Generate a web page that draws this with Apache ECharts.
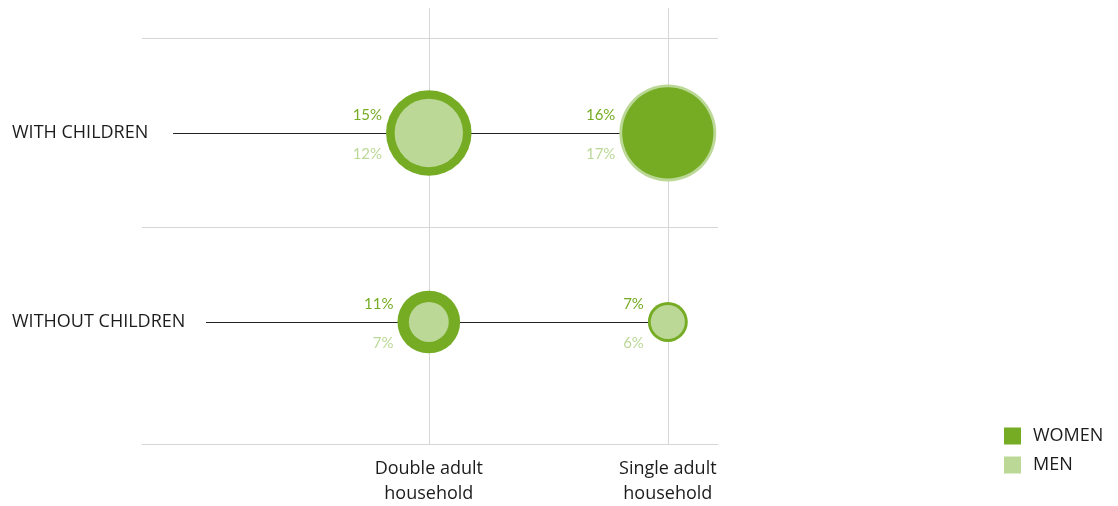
<!DOCTYPE html>
<html>
<head>
<meta charset="utf-8">
<title>Household type by gender</title>
<script src="https://cdn.jsdelivr.net/npm/echarts@6/dist/echarts.min.js"></script>
<style>
  html, body { margin: 0; padding: 0; background: #ffffff; }
  #chart { width: 1118px; height: 506px; }
</style>
</head>
<body>
<div id="chart"></div>
<script>
// Columns (household type) and rows (presence of children)
var householdTypes = ['Double adult\nhousehold', 'Single adult\nhousehold'];
var childRows = ['WITH CHILDREN', 'WITHOUT CHILDREN'];

// Shares in percent, one row per childRows entry, one column per household type
var womenShare = [[15, 16], [11, 7]];
var menShare = [[12, 17], [7, 6]];

var legendNames = ['WOMEN', 'MEN'];

var WOMEN_COLOR = '#75ac24';
var MEN_COLOR = '#bbd897';
var GRID_COLOR = '#d6d6d6';
var TEXT_COLOR = '#1c1c1c';
var FONT = '"Open Sans", "Noto Sans", sans-serif';
var PCT_FONT = 'Lato, "Noto Sans", sans-serif';

// bubble diameter per percentage point
var SIZE_K = 5.7;
var LABEL_GAP = 4;

function rowY(r) { return childRows.length - r; }
function colX(c) { return c + 1; }

var womenPts = [], menBack = [], menFront = [];
childRows.forEach(function (row, r) {
  householdTypes.forEach(function (h, c) {
    var w = womenShare[r][c], m = menShare[r][c];
    var big = Math.max(w, m);
    var wItem = {
      value: [colX(c), rowY(r), w],
      symbolSize: w * SIZE_K,
      label: { distance: (big - w) * SIZE_K / 2 + LABEL_GAP }
    };
    var mItem = {
      value: [colX(c), rowY(r), m],
      symbolSize: m * SIZE_K,
      label: { distance: (big - m) * SIZE_K / 2 + LABEL_GAP }
    };
    womenPts.push(wItem);
    // the larger circle sits underneath the smaller one
    if (m > w) menBack.push(mItem); else menFront.push(mItem);
  });
});

function pctLabel(color, dy) {
  return {
    show: true,
    position: 'left',
    offset: [0, dy],
    color: color,
    fontFamily: PCT_FONT,
    fontSize: 15,
    formatter: function (p) { return p.value[2] + '%'; }
  };
}

// connector lines from the row captions to the last column
var connectorStart = [-0.07, 0.068];
var connectorData = childRows.map(function (row, r) {
  return [
    { coord: [connectorStart[r], rowY(r)], lineStyle: { color: '#222222', width: 1, type: 'solid' } },
    { coord: [colX(householdTypes.length - 1), rowY(r)] }
  ];
});

function gridLine(key, v) {
  var d = { lineStyle: { color: GRID_COLOR, width: 1, type: 'solid' } };
  d[key] = v;
  return d;
}

var option = {
  backgroundColor: '#ffffff',
  animation: false,
  textStyle: { fontFamily: FONT },
  grid: { left: 142, right: 400, top: 8, bottom: 62 },
  legend: {
    data: legendNames,
    orient: 'vertical',
    left: 1004,
    top: 427,
    padding: 0,
    icon: 'rect',
    itemWidth: 17,
    itemHeight: 17,
    itemGap: 11,
    textStyle: { fontFamily: FONT, fontSize: 18, color: TEXT_COLOR, padding: [0, 0, 0, 7] }
  },
  xAxis: {
    type: 'value',
    min: -0.2,
    max: 2.21,
    splitLine: { show: false },
    axisTick: { show: false },
    axisLine: { show: true, lineStyle: { color: GRID_COLOR, width: 1 } },
    axisLabel: {
      customValues: householdTypes.map(function (h, c) { return colX(c); }),
      formatter: function (v) { return householdTypes[v - 1] || ''; },
      color: TEXT_COLOR,
      fontFamily: FONT,
      fontSize: 18,
      lineHeight: 25,
      margin: 12
    }
  },
  yAxis: {
    type: 'value',
    min: 0.3545,
    max: 2.661,
    splitLine: { show: false },
    axisTick: { show: false },
    axisLine: { show: false },
    axisLabel: {
      customValues: childRows.map(function (row, r) { return rowY(r); }),
      formatter: function (v) { return childRows[childRows.length - v] || ''; },
      align: 'left',
      margin: 130,
      color: TEXT_COLOR,
      fontFamily: FONT,
      fontSize: 18
    }
  },
  series: [
    {
      type: 'line',
      z: 1,
      data: [],
      silent: true,
      markLine: {
        z: 1,
        silent: true,
        symbol: 'none',
        label: { show: false },
        animation: false,
        data: [
          gridLine('xAxis', 1),
          gridLine('xAxis', 2),
          gridLine('yAxis', 1.5),
          gridLine('yAxis', 2.5)
        ].concat(connectorData)
      }
    },
    {
      name: 'MEN',
      type: 'scatter',
      z: 2,
      itemStyle: { color: MEN_COLOR, opacity: 1 },
      label: pctLabel(MEN_COLOR, 21),
      data: menBack
    },
    {
      name: 'WOMEN',
      type: 'scatter',
      z: 3,
      itemStyle: { color: WOMEN_COLOR, opacity: 1 },
      label: pctLabel(WOMEN_COLOR, -18),
      data: womenPts
    },
    {
      name: 'MEN',
      type: 'scatter',
      z: 4,
      itemStyle: { color: MEN_COLOR, opacity: 1 },
      label: pctLabel(MEN_COLOR, 21),
      data: menFront
    }
  ]
};

var chart = echarts.init(document.getElementById('chart'), null, { renderer: 'canvas' });
chart.setOption(option);
</script>
</body>
</html>
